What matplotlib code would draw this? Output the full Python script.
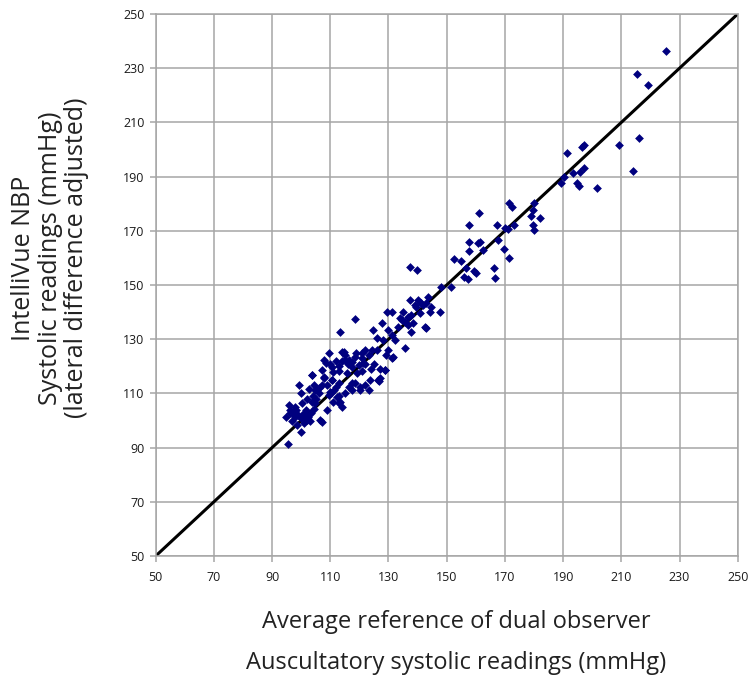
#!/usr/bin/env python3

import matplotlib
matplotlib.use("Agg")
import matplotlib.pyplot as plt

# reference (dual observer auscultatory) vs IntelliVue NBP systolic, mmHg
ref_mmhg = [
    # low cluster
    95.3, 94.7, 95.8, 97.0, 98.1, 98.7, 99.8, 100.4, 100.9, 101.5, 102.1, 103.2,
    103.8, 104.9, 106.1, 106.6, 107.2, 108.9, 109.5, 110.0, 111.2, 111.8, 112.9,
    113.5, 114.0, 99.2, 103.8, 104.4, 105.5, 96.1, 97.9, 101.1, 102.4, 104.4,
    102.7, 104.9, 103.8, 107.8,
    96.0, 97.0, 98.0, 99.0, 100.0, 101.0, 103.0, 104.0, 105.0, 106.0, 107.0,
    108.0, 109.0, 110.0, 110.5, 111.0, 100.0, 102.0, 98.0, 111.0, 113.0, 115.0,
    # middle cluster
    118.6, 113.2, 109.5, 114.1, 124.3, 122.0, 123.2, 120.9, 118.6, 117.5, 116.3,
    117.5, 119.7, 120.9, 115.8, 112.9, 110.6, 108.4, 107.2, 107.8, 110.6, 112.9,
    117.5, 122.0, 123.7, 126.6, 127.1, 123.2, 120.3, 110.1, 112.4, 128.9, 118.6,
    116.3, 117.4, 114.6, 115.2, 119.1, 121.4, 120.3, 126.5, 128.8, 131.1, 131.7,
    112.0, 113.0, 114.0, 115.0, 116.0, 119.0, 121.0, 122.0, 124.0, 125.0, 126.0,
    127.0, 129.0, 130.0,
    # upper middle
    137.3, 139.9, 143.6, 137.3, 140.2, 135.0, 139.0, 141.9, 144.1, 147.6, 129.4,
    131.1, 137.9, 133.9, 135.6, 136.8, 142.4, 143.0, 133.3, 127.7, 137.9, 124.8,
    129.9, 131.1, 125.9, 128.2, 132.2, 135.6, 138.5, 139.6, 140.8, 141.3, 143.0,
    144.7, 134.5, 136.8,
    # 150-180
    171.5, 172.3, 161.2, 157.6, 167.3, 170.0, 170.9, 173.2, 178.9, 179.5, 180.0,
    179.5, 180.0, 157.6, 160.7, 161.6, 157.8, 162.4, 167.5, 169.6, 171.5, 152.4,
    155.0, 156.7, 159.5, 160.1, 156.1, 157.3, 166.1, 166.6, 148.2, 151.6, 182.1,
    # 180-230
    197.1, 196.5, 191.2, 197.1, 195.9, 193.4, 190.3, 189.3, 194.8, 195.4,
    225.3, 215.5, 219.2, 216.2, 209.1, 214.1, 201.8,
]
nbp_mmhg = [
    # low cluster
    91.5, 101.4, 105.7, 102.6, 103.9, 98.3, 95.9, 106.3, 102.0, 103.9, 100.2, 102.6,
    106.9, 106.3, 110.0, 100.2, 99.5, 103.9, 109.4, 110.6, 111.2, 112.5, 106.3,
    106.9, 105.1, 113.1, 116.8, 113.1, 111.2, 102.6, 101.4, 102.6, 101.4, 104.4,
    111.8, 111.2, 116.7, 122.3,
    104.0, 100.0, 104.0, 102.0, 101.0, 99.0, 100.0, 109.0, 108.0, 112.0, 113.0,
    116.0, 113.0, 121.0, 115.0, 118.0, 110.0, 108.0, 105.0, 107.0, 109.0, 110.0,
    # middle cluster
    137.4, 132.6, 124.8, 125.4, 126.0, 126.0, 124.2, 124.8, 123.6, 121.7, 122.4,
    119.9, 120.5, 118.1, 117.4, 118.1, 119.9, 121.1, 118.7, 115.6, 115.0, 113.7,
    113.7, 113.1, 115.0, 114.4, 115.6, 111.3, 111.3, 110.1, 108.8, 118.7, 113.7,
    112.5, 111.2, 125.4, 122.3, 117.4, 121.1, 112.5, 114.9, 118.6, 122.9, 123.5,
    122.0, 120.0, 122.0, 124.0, 121.0, 125.0, 123.0, 121.0, 119.0, 121.0, 126.0,
    119.0, 124.0, 126.0,
    # upper middle
    156.7, 155.5, 145.7, 144.4, 144.4, 140.1, 142.6, 142.6, 140.1, 140.1, 140.1,
    140.1, 138.9, 137.7, 136.5, 135.2, 134.6, 134.0, 134.6, 135.8, 132.8, 133.4,
    133.4, 131.5, 130.3, 129.7, 129.7, 126.6, 135.8, 142.0, 139.5, 143.2, 143.2,
    142.0, 137.0, 138.3,
    # 150-180
    180.2, 178.9, 176.7, 172.2, 172.2, 171.0, 170.6, 172.2, 175.3, 172.2, 170.3,
    177.7, 180.2, 166.0, 165.4, 165.7, 162.6, 162.9, 166.6, 163.2, 159.9, 159.6,
    158.7, 156.2, 155.3, 154.6, 152.9, 152.1, 156.2, 152.5, 149.4, 149.2, 174.6,
    # 180-230
    201.7, 200.8, 198.6, 193.1, 191.8, 191.2, 190.0, 187.5, 187.8, 186.5,
    236.5, 227.7, 223.8, 204.4, 201.7, 192.1, 185.7,
]

ticks = list(range(50, 251, 20))
grey = "#a6a6a6"

fig = plt.figure(figsize=(7.51, 6.77), dpi=100)
ax = fig.add_axes([0.2073, 0.1787, 0.7750, 0.8006])

ax.plot([50, 250], [50, 250], color="black", lw=2.2, zorder=2)
ax.scatter(ref_mmhg, nbp_mmhg, marker="D", s=20, color="#00007f", zorder=3, linewidths=0)

ax.set_xlim(50, 250)
ax.set_ylim(50, 250)
ax.set_xticks(ticks)
ax.set_yticks(ticks)
ax.grid(True, color=grey, lw=1.1, zorder=0)
for sp in ax.spines.values():
    sp.set_color(grey)
    sp.set_linewidth(1.1)
ax.tick_params(direction="out", length=4, width=1.1, color=grey, labelsize=9,
               labelcolor="#1a1a1a", pad=4)
ax.tick_params(axis="x", pad=7)
for lab in ax.get_xticklabels() + ax.get_yticklabels():
    lab.set_fontfamily("Open Sans")

fig.text(0.0666, 0.619, "IntelliVue NBP\nSystolic readings (mmHg)\n(lateral difference adjusted)",
         rotation=90, ha="center", va="center", fontsize=18, family="Open Sans",
         color="#222222", linespacing=1.1)
fig.text(0.607, 1 - 622 / 677, "Average reference of dual observer", ha="center",
         va="center", fontsize=17, family="Open Sans", color="#222222")
fig.text(0.607, 1 - 663 / 677, "Auscultatory systolic readings (mmHg)", ha="center",
         va="center", fontsize=17, family="Open Sans", color="#222222")

fig.savefig("out.png", dpi=100)
